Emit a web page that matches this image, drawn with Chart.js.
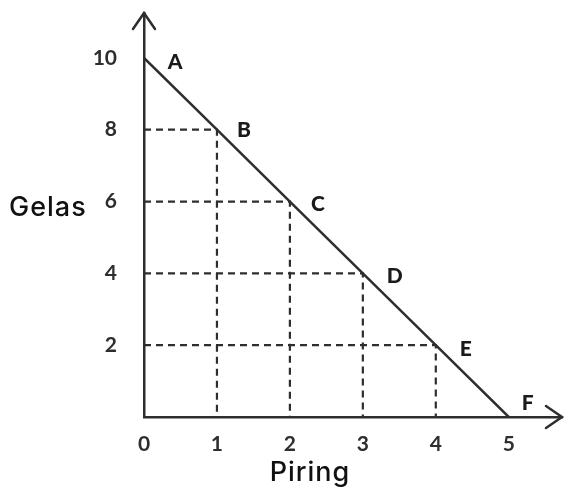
<!DOCTYPE html>
<html>
<head>
<meta charset="utf-8">
<script src="https://cdn.jsdelivr.net/npm/chart.js@4.4.1/dist/chart.umd.min.js"></script>
<style>
  html, body { margin: 0; padding: 0; background: #fff; }
  canvas { display: block; }
</style>
</head>
<body>
<canvas id="c" width="565" height="487"></canvas>
<script>
// Possible combinations: piring (x) vs gelas (y)
const pointLabels = ['A', 'B', 'C', 'D', 'E', 'F'];
const piring = [0, 1, 2, 3, 4, 5];
const gelas = [10, 8, 6, 4, 2, 0];
const xTicks = [0, 1, 2, 3, 4, 5];
const yTicks = [2, 4, 6, 8, 10];
const xTitle = 'Piring';
const yTitle = 'Gelas';

const INK = '#2e2e2e';

// label offsets in px from each point
const labelOffsets = [[31, 4], [27, 1], [28, 3], [32, 3], [30, 4], [19, -14]];

const line = piring.map((x, i) => ({ x, y: gelas[i] }));

// dashed guides for the inner points
const guides = [];
piring.forEach((x, i) => {
  if (x === 0 || gelas[i] === 0) return;
  guides.push({
    data: [{ x: 0, y: gelas[i] }, { x, y: gelas[i] }, { x, y: 0 }],
    borderColor: INK,
    borderWidth: 2.2,
    borderDash: [7, 5],
    pointRadius: 0,
    showLine: true,
    fill: false,
  });
});

const extras = {
  id: 'extras',
  afterDatasetsDraw(chart) {
    const { ctx, chartArea: a, scales: { x, y } } = chart;
    ctx.save();

    // arrow heads
    ctx.strokeStyle = INK;
    ctx.lineWidth = 2.5;
    ctx.lineCap = 'round';
    ctx.beginPath();
    ctx.moveTo(a.left - 11, a.top + 16);
    ctx.lineTo(a.left, a.top);
    ctx.lineTo(a.left + 11, a.top + 16);
    ctx.moveTo(a.right - 16, a.bottom - 11);
    ctx.lineTo(a.right, a.bottom);
    ctx.lineTo(a.right - 16, a.bottom + 11);
    ctx.stroke();

    // point letters
    ctx.fillStyle = '#1a1a1a';
    ctx.font = '900 21px Lato';
    ctx.textAlign = 'center';
    ctx.textBaseline = 'middle';
    pointLabels.forEach((t, i) => {
      const px = x.getPixelForValue(piring[i]) + labelOffsets[i][0];
      const py = y.getPixelForValue(gelas[i]) + labelOffsets[i][1];
      ctx.fillText(t, px, py);
    });

    // axis titles
    ctx.fillStyle = '#111';
    ctx.font = '500 27px Inter';
    ctx.letterSpacing = '1px';
    ctx.textAlign = 'left';
    ctx.fillText(yTitle, 9, y.getPixelForValue(6) + 6);
    ctx.textAlign = 'center';
    ctx.fillText(xTitle, 310, 473);
    ctx.restore();
  }
};

const tickFont = { family: 'Lato', size: 21, weight: 'bold' };

new Chart(document.getElementById('c'), {
  type: 'scatter',
  data: {
    datasets: [
      {
        data: line,
        borderColor: INK,
        borderWidth: 2.5,
        pointRadius: 0,
        showLine: true,
        fill: false,
      },
      ...guides,
    ],
  },
  options: {
    responsive: false,
    animation: false,
    layout: { padding: { top: 13, right: 3, left: 0, bottom: 0 } },
    plugins: {
      legend: { display: false },
      tooltip: { enabled: false },
    },
    scales: {
      x: {
        type: 'linear',
        min: 0,
        max: 5.73,
        afterBuildTicks: s => { s.ticks = xTicks.map(v => ({ value: v })); },
        afterFit: s => { s.height = 70; s.paddingLeft = 0; s.paddingRight = 0; },
        grid: { display: false, drawTicks: false },
        border: { display: true, color: INK, width: 2.5 },
        ticks: { color: INK, font: tickFont, padding: 15, maxRotation: 0 },
      },
      y: {
        type: 'linear',
        min: 0,
        max: 11.25,
        afterBuildTicks: s => { s.ticks = yTicks.map(v => ({ value: v })); },
        afterFit: s => { s.width = 144; s.paddingTop = 0; s.paddingBottom = 0; },
        grid: { display: false, drawTicks: false },
        border: { display: true, color: INK, width: 2.5 },
        ticks: { color: INK, font: tickFont, padding: 27 },
      },
    },
  },
  plugins: [extras],
});
</script>
</body>
</html>
